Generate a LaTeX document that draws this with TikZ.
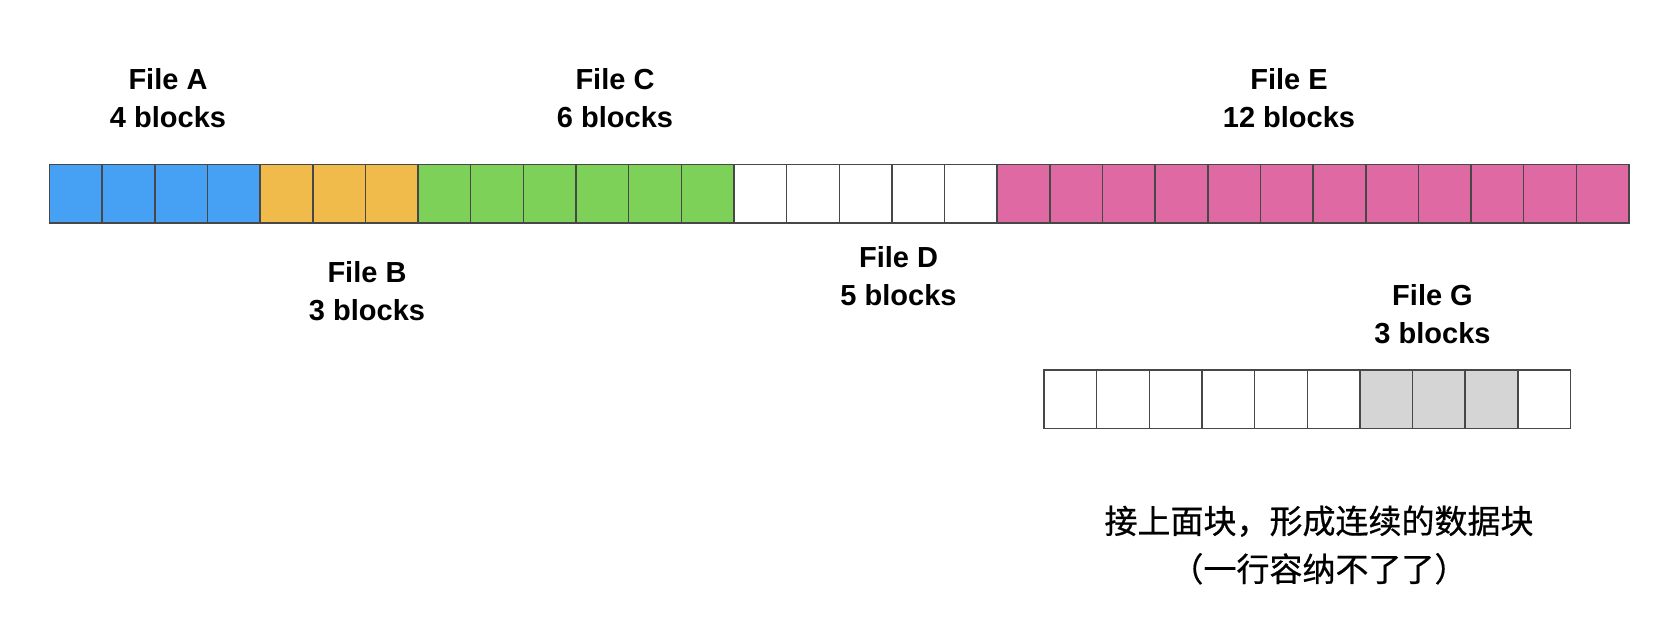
\documentclass[tikz,border=0pt]{standalone}
\usepackage{fontspec}
\setmainfont{Liberation Sans}
\newfontfamily\cjkfont[FakeBold=0.6]{Noto Sans CJK SC}
\usetikzlibrary{positioning}

\definecolor{fileA}{HTML}{46A0F4}
\definecolor{fileB}{HTML}{F0BB4B}
\definecolor{fileC}{HTML}{7DD158}
\definecolor{fileE}{HTML}{DF69A3}
\definecolor{used}{HTML}{D5D5D5}

\begin{document}
\begin{tikzpicture}[
  x=1pt, y=1pt,
  node distance=0pt,
  blk/.style={
    rectangle, draw=black!72, line width=1.5pt,
    minimum width=52.65pt, minimum height=58.5pt,
    inner sep=0pt, outer sep=0pt
  },
  lbl/.style={align=center, inner sep=0pt, font=\fontsize{29}{38}\selectfont\bfseries},
  note/.style={align=center, inner sep=0pt, font=\cjkfont\fontsize{33}{48}\selectfont}
]
\useasboundingbox (0,0) rectangle (1670,-644);

% Disk row: files A to E
\node[blk, fill=fileA, anchor=north west] (m1) at (49.5,-164.3) {};
\foreach \c [count=\i from 2] in {fileA,fileA,fileA,
    fileB,fileB,fileB,
    fileC,fileC,fileC,fileC,fileC,fileC,
    white,white,white,white,white,
    fileE,fileE,fileE,fileE,fileE,fileE,fileE,fileE,fileE,fileE,fileE,fileE} {
  \pgfmathtruncatemacro\j{\i-1}
  \node[blk, fill=\c, right=of m\j] (m\i) {};
}

% Second row: file G
\node[blk, fill=white, anchor=north west] (g1) at (1044,-370) {};
\foreach \c [count=\i from 2] in {white,white,white,white,white,used,used,used,white} {
  \pgfmathtruncatemacro\j{\i-1}
  \node[blk, fill=\c, right=of g\j] (g\i) {};
}

% Labels
\node[lbl] (lA) at (168,-98) {File A\\4 blocks};
\node[lbl] (lC) at (615,-98) {File C\\6 blocks};
\node[lbl] (lE) at (1289,-98) {File E\\12 blocks};
\node[lbl] (lB) at (367,-291.5) {File B\\3 blocks};
\node[lbl] (lD) at (898.5,-276.5) {File D\\5 blocks};
\node[lbl] (lG) at (1432.5,-314) {File G\\3 blocks};

\node[note] (nt) at (1319,-545) {接上面块，形成连续的数据块\\（一行容纳不了了）};
\end{tikzpicture}
\end{document}
